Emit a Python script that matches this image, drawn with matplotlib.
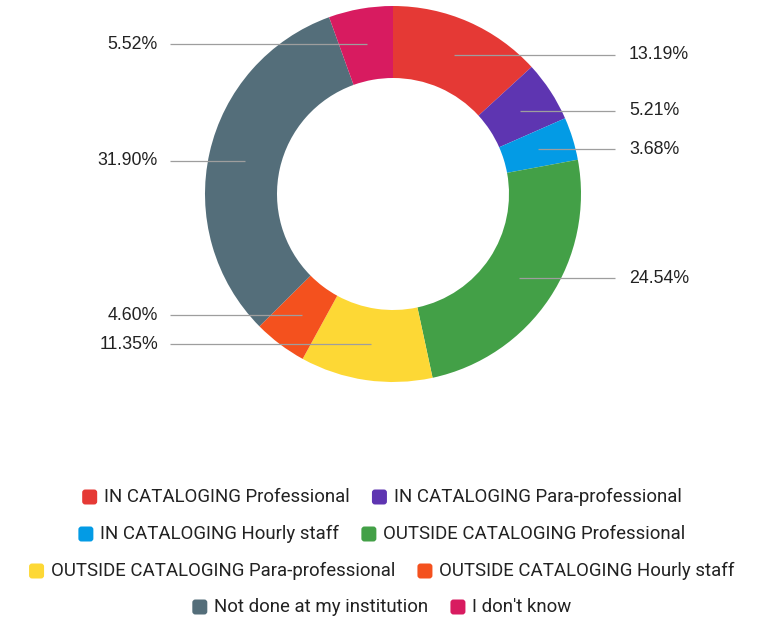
import matplotlib
matplotlib.use("Agg")
import numpy as np
import matplotlib.pyplot as plt
from matplotlib.patches import FancyBboxPatch

LABELS = [
    "IN CATALOGING Professional",
    "IN CATALOGING Para-professional",
    "IN CATALOGING Hourly staff",
    "OUTSIDE CATALOGING Professional",
    "OUTSIDE CATALOGING Para-professional",
    "OUTSIDE CATALOGING Hourly staff",
    "Not done at my institution",
    "I don't know",
]
SHARES = [13.19, 5.21, 3.68, 24.54, 11.35, 4.60, 31.90, 5.52]
COLORS = ["#E53935", "#5E35B1", "#039BE5", "#43A047",
          "#FDD835", "#F4511E", "#546E7A", "#D81B60"]
LEGEND_ROWS = [[0, 1], [2, 3], [4, 5], [6, 7]]

W, H = 759, 620
CX, CY = 393, H - 194
R_OUT, R_IN = 188, 116

fig = plt.figure(figsize=(W / 100, H / 100), dpi=100)
ax = fig.add_axes([0, 0, 1, 1])

wedges, _ = ax.pie(SHARES, colors=COLORS, startangle=90, counterclock=False,
                   radius=R_OUT, center=(CX, CY),
                   wedgeprops=dict(width=R_OUT - R_IN, linewidth=0))
ax.set_xlim(0, W)
ax.set_ylim(0, H)
ax.set_aspect("auto")
ax.set_axis_off()

# leader lines + labels
r_mid = (R_OUT + R_IN) / 2
for w, s in zip(wedges, SHARES):
    ang = np.deg2rad((w.theta1 + w.theta2) / 2)
    x0 = CX + r_mid * np.cos(ang)
    y0 = CY + r_mid * np.sin(ang)
    txt = f"{s:.2f}%"
    if x0 >= CX:
        ax.plot([x0, 615], [y0, y0], color="#9e9e9e", lw=0.9, solid_capstyle="butt")
        ax.text(629, y0, txt, ha="left", va="center", fontsize=12.8,
                family="Liberation Sans", color="#222222")
    else:
        ax.plot([170, x0], [y0, y0], color="#9e9e9e", lw=0.9, solid_capstyle="butt")
        ax.text(158, y0, txt, ha="right", va="center", fontsize=12.8,
                family="Liberation Sans", color="#222222")

# centred legend rows
renderer = fig.canvas.get_renderer()
row_y = [H - 497, H - 534, H - 571, H - 607]
box, gap_txt, gap_item = 15, 7, 22
for ry, row in zip(row_y, LEGEND_ROWS):
    texts = []
    for i in row:
        t = ax.text(0, ry, LABELS[i], ha="left", va="center", fontsize=13.4,
                    family="Roboto", color="#222222")
        texts.append(t)
    widths = [t.get_window_extent(renderer).width for t in texts]
    total = sum(box + gap_txt + wd for wd in widths) + gap_item * (len(row) - 1)
    x = 382 - total / 2
    for i, t, wd in zip(row, texts, widths):
        ax.add_patch(FancyBboxPatch((x + 1.5, ry - box / 2 + 1.5), box - 3, box - 3,
                                    boxstyle="round,pad=1.5,rounding_size=3",
                                    fc=COLORS[i], ec="none"))
        t.set_x(x + box + gap_txt)
        x += box + gap_txt + wd + gap_item

fig.savefig("out.png", dpi=100)
